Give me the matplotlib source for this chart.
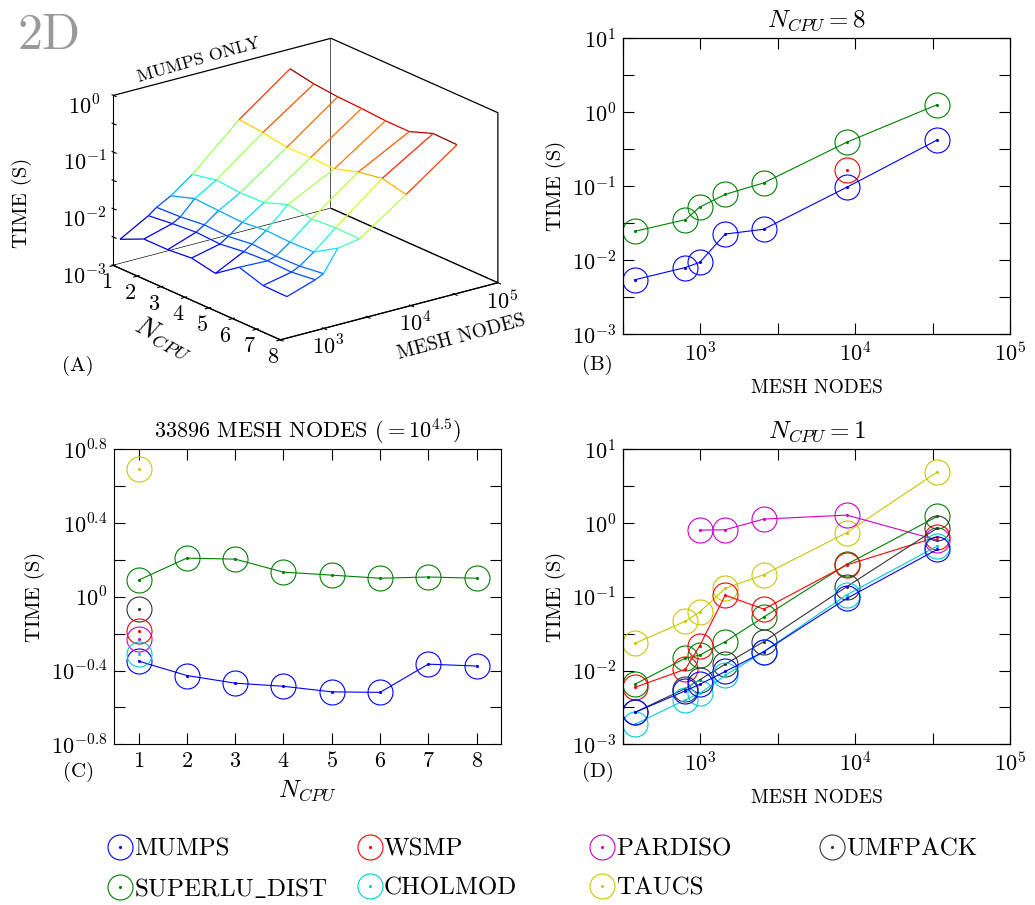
import numpy as np
import matplotlib
matplotlib.use("Agg")
import matplotlib.pyplot as plt
from matplotlib.lines import Line2D
from matplotlib.ticker import FixedLocator, NullFormatter
from mpl_toolkits.mplot3d.art3d import Line3DCollection

plt.rcParams['font.family'] = 'cmr10'
plt.rcParams['mathtext.fontset'] = 'cm'
plt.rcParams['axes.formatter.use_mathtext'] = True
plt.rcParams['font.size'] = 16

# ---- data ----
mesh_nodes = [376, 798, 990, 1445, 2560, 8800, 33896]
n_cpu = [1, 2, 3, 4, 5, 6, 7, 8]

# (a) MUMPS time (s), rows = mesh_nodes, columns = n_cpu
mumps_grid = [
    [0.0027, 0.0042, 0.0042, 0.0046, 0.0038, 0.0075, 0.0055, 0.0054],
    [0.0052, 0.0058, 0.0063, 0.0060, 0.0068, 0.0072, 0.0070, 0.0079],
    [0.0067, 0.0070, 0.0078, 0.0075, 0.0085, 0.0080, 0.0082, 0.0093],
    [0.0092, 0.0126, 0.0119, 0.0114, 0.0126, 0.0121, 0.0125, 0.0224],
    [0.0174, 0.0213, 0.0196, 0.0202, 0.0288, 0.0247, 0.0266, 0.0260],
    [0.0980, 0.0895, 0.0753, 0.0767, 0.0746, 0.1010, 0.1200, 0.0960],
    [0.448, 0.374, 0.340, 0.327, 0.305, 0.303, 0.431, 0.421],
]

# (b) N_CPU = 8
mumps_8 = [0.0054, 0.0079, 0.0093, 0.0224, 0.026, 0.096, 0.42]
superlu_8 = [0.0244, 0.035, 0.052, 0.077, 0.11, 0.39, 1.26]
wsmp_8_nodes = [8800]
wsmp_8 = [0.166]

# (c) 33896 mesh nodes
mumps_big = [0.448, 0.374, 0.340, 0.327, 0.305, 0.303, 0.431, 0.421]
superlu_big = [1.23, 1.62, 1.60, 1.36, 1.31, 1.26, 1.28, 1.26]
single_cpu = [1]
taucs_big = [4.93]
umfpack_big = [0.853]
wsmp_big = [0.649]
pardiso_big = [0.587]
cholmod_big = [0.489]

# (d) N_CPU = 1
mumps_1 = [0.0027, 0.0053, 0.0065, 0.0097, 0.018, 0.095, 0.44]
superlu_1 = [0.0065, 0.0147, 0.0162, 0.0246, 0.053, 0.275, 1.23]
wsmp_1 = [0.0059, 0.0104, 0.0218, 0.105, 0.068, 0.27, 0.649]
pardiso_nodes = [990, 1445, 2560, 8800, 33896]
pardiso_1 = [0.80, 0.81, 1.13, 1.28, 0.587]
umfpack_1 = [0.0027, 0.0057, 0.0075, 0.0122, 0.0246, 0.137, 0.853]
cholmod_1 = [0.00186, 0.0040, 0.0049, 0.0086, 0.018, 0.106, 0.489]
taucs_1 = [0.0233, 0.0465, 0.0622, 0.13, 0.199, 0.74, 4.93]

colors = {
    'MUMPS': '#0000ff', 'WSMP': '#ff0000', 'PARDISO': '#cc00cc',
    'UMFPACK': '#333333', 'SUPERLU_DIST': '#008000', 'CHOLMOD': '#00cccc',
    'TAUCS': '#c8c800',
}
labels = {
    'MUMPS': 'MUMPS', 'WSMP': 'WSMP', 'PARDISO': 'PARDISO', 'UMFPACK': 'UMFPACK',
    'SUPERLU_DIST': r'SUPERLU$\_$DIST', 'CHOLMOD': 'CHOLMOD', 'TAUCS': 'TAUCS',
}
# legend laid out in columns, as in the original
legend_columns = [['MUMPS', 'SUPERLU_DIST'], ['WSMP', 'CHOLMOD'], ['PARDISO', 'TAUCS'], ['UMFPACK']]
legend_x = [0.104, 0.345, 0.570, 0.792]

MS = 18


def series(ax, x, y, c):
    ax.plot(x, y, color=c, lw=0.8, marker='.', ms=2.5)
    ax.plot(x, y, ls='none', marker='o', ms=MS, mfc='none', mec=c, mew=0.8)


def log_panel(ax):
    ax.set_xscale('log')
    ax.set_yscale('log')
    ax.set_xlim(10 ** 2.5, 1e5)
    ax.set_ylim(1e-3, 10)
    ax.xaxis.set_major_locator(FixedLocator([1e3, 1e4, 1e5]))
    ax.xaxis.set_minor_locator(FixedLocator([10 ** 2.5, 10 ** 3.5, 10 ** 4.5]))
    ax.yaxis.set_major_locator(FixedLocator([1e-3, 1e-2, 1e-1, 1, 10]))
    ax.yaxis.set_minor_locator(FixedLocator([10 ** -2.5, 10 ** -1.5, 10 ** -0.5, 10 ** 0.5]))
    ax.xaxis.set_minor_formatter(NullFormatter())
    ax.yaxis.set_minor_formatter(NullFormatter())
    ax.tick_params(which='both', direction='in', top=True, right=True,
                   length=8, width=0.8, labelsize=16, pad=5)
    ax.set_xlabel('MESH NODES', fontsize=14, labelpad=10)
    ax.set_ylabel('TIME (S)', fontsize=15, labelpad=4)
    for s in ax.spines.values():
        s.set_linewidth(0.9)


fig = plt.figure(figsize=(10.35, 9.05), dpi=100)

# ---- (a) 3D wireframe, MUMPS only ----
ax_a = fig.add_axes([0.0, 0.56, 0.58, 0.45], projection='3d')
ax_a.set_proj_type('ortho')
ax_a.view_init(elev=20, azim=-37.5)
ax_a.set_box_aspect((1, 1, 0.66), zoom=1.02)
lm = np.log10(mesh_nodes)
lt = np.log10(np.array(mumps_grid))
segs, vals = [], []
for i in range(len(mesh_nodes)):
    for j in range(len(n_cpu) - 1):
        segs.append([(n_cpu[j], lm[i], lt[i, j]), (n_cpu[j + 1], lm[i], lt[i, j + 1])])
        vals.append((lt[i, j] + lt[i, j + 1]) / 2)
for j in range(len(n_cpu)):
    for i in range(len(mesh_nodes) - 1):
        segs.append([(n_cpu[j], lm[i], lt[i, j]), (n_cpu[j], lm[i + 1], lt[i + 1, j])])
        vals.append((lt[i, j] + lt[i + 1, j]) / 2)
norm = plt.Normalize(lt.min(), lt.max())
ax_a.add_collection3d(Line3DCollection(segs, colors=plt.cm.jet(norm(vals)), linewidths=0.9))
ax_a.set_xlim(1, 8)
ax_a.set_ylim(2.5, 5)
ax_a.set_zlim(-3, 0)
ax_a.set_xticks(n_cpu)
ax_a.set_yticks([2.5, 3, 3.5, 4, 4.5, 5])
ax_a.set_yticklabels(['', '$10^3$', '', '$10^4$', '', '$10^5$'])
ax_a.set_zticks([-3, -2.5, -2, -1.5, -1, -0.5, 0])
ax_a.set_zticklabels(['$10^{-3}$', '', '$10^{-2}$', '', '$10^{-1}$', '', '$10^{0}$'])
ax_a.zaxis._axinfo['juggled'] = (1, 2, 0)
ax_a.grid(False)
for axis in (ax_a.xaxis, ax_a.yaxis, ax_a.zaxis):
    axis.pane.set_facecolor('white')
    axis.pane.set_edgecolor('black')
    axis.pane.set_alpha(1)
    axis.pane.set_linewidth(0.9)
    axis.line.set_color('black')
    axis.set_tick_params(labelsize=16)
ax_a.xaxis.set_tick_params(pad=-3)
ax_a.yaxis.set_tick_params(pad=-4)

fig.text(0.017, 0.985, '2D', fontsize=36, color='#999999', va='top')
fig.text(0.192, 0.934, 'MUMPS ONLY', fontsize=13, rotation=16, ha='center', va='center')
fig.text(0.021, 0.776, 'TIME (S)', fontsize=15, rotation=90, ha='center', va='center')
fig.text(0.158, 0.627, '$N_{CPU}$', fontsize=19, rotation=-28, ha='center', va='center')
fig.text(0.446, 0.628, 'MESH NODES', fontsize=14, rotation=15, ha='center', va='center')
fig.text(0.06, 0.596, '(A)', fontsize=15, va='center')

# ---- (b) N_CPU = 8 ----
ax_b = fig.add_axes([0.602, 0.631, 0.374, 0.327])
series(ax_b, mesh_nodes, mumps_8, colors['MUMPS'])
series(ax_b, mesh_nodes, superlu_8, colors['SUPERLU_DIST'])
series(ax_b, wsmp_8_nodes, wsmp_8, colors['WSMP'])
log_panel(ax_b)
ax_b.set_title('$N_{CPU} = 8$', fontsize=18, pad=8)
fig.text(0.562, 0.597, '(B)', fontsize=15, va='center')

# ---- (c) 33896 mesh nodes ----
ax_c = fig.add_axes([0.1105, 0.1776, 0.3733, 0.326])
series(ax_c, n_cpu, mumps_big, colors['MUMPS'])
series(ax_c, n_cpu, superlu_big, colors['SUPERLU_DIST'])
series(ax_c, single_cpu, taucs_big, colors['TAUCS'])
series(ax_c, single_cpu, umfpack_big, colors['UMFPACK'])
series(ax_c, single_cpu, wsmp_big, colors['WSMP'])
series(ax_c, single_cpu, pardiso_big, colors['PARDISO'])
series(ax_c, single_cpu, cholmod_big, colors['CHOLMOD'])
ax_c.set_yscale('log')
ax_c.set_xlim(0.5, 8.5)
ax_c.set_ylim(10 ** -0.8, 10 ** 0.8)
ax_c.xaxis.set_major_locator(FixedLocator(n_cpu))
ax_c.yaxis.set_major_locator(FixedLocator([10 ** -0.8, 10 ** -0.4, 1, 10 ** 0.4, 10 ** 0.8]))
ax_c.yaxis.set_minor_locator(FixedLocator([10 ** -0.6, 10 ** -0.2, 10 ** 0.2, 10 ** 0.6]))
ax_c.set_yticklabels(['$10^{-0.8}$', '$10^{-0.4}$', '$10^{0}$', '$10^{0.4}$', '$10^{0.8}$'])
ax_c.yaxis.set_minor_formatter(NullFormatter())
ax_c.tick_params(which='both', direction='in', top=True, right=True,
                 length=8, width=0.8, labelsize=16, pad=5)
ax_c.set_xlabel('$N_{CPU}$', fontsize=18, labelpad=5)
ax_c.set_ylabel('TIME (S)', fontsize=15, labelpad=4)
ax_c.set_title('33896 MESH NODES $(= 10^{4.5})$', fontsize=16, pad=8)
fig.text(0.061, 0.147, '(C)', fontsize=15, va='center')

# ---- (d) N_CPU = 1 ----
ax_d = fig.add_axes([0.602, 0.1776, 0.374, 0.326])
series(ax_d, mesh_nodes, taucs_1, colors['TAUCS'])
series(ax_d, pardiso_nodes, pardiso_1, colors['PARDISO'])
series(ax_d, mesh_nodes, superlu_1, colors['SUPERLU_DIST'])
series(ax_d, mesh_nodes, wsmp_1, colors['WSMP'])
series(ax_d, mesh_nodes, umfpack_1, colors['UMFPACK'])
series(ax_d, mesh_nodes, cholmod_1, colors['CHOLMOD'])
series(ax_d, mesh_nodes, mumps_1, colors['MUMPS'])
log_panel(ax_d)
ax_d.set_title('$N_{CPU} = 1$', fontsize=18, pad=8)
fig.text(0.562, 0.147, '(D)', fontsize=15, va='center')

# ---- legend: one small legend per column ----
for names, x in zip(legend_columns, legend_x):
    handles = []
    for name in names:
        c = colors[name]
        handles.append((Line2D([], [], ls='none', marker='o', ms=MS, mfc='none', mec=c, mew=0.8),
                        Line2D([], [], ls='none', marker='.', ms=2.5, color=c)))
    fig.legend(handles, [labels[n] for n in names], loc='upper left',
               bbox_to_anchor=(x, 1 - 838 / 905), frameon=False, fontsize=18,
               handlelength=1.0, handletextpad=0.05, labelspacing=0.65,
               borderpad=0, borderaxespad=0)

fig.savefig('out.png', dpi=100)
